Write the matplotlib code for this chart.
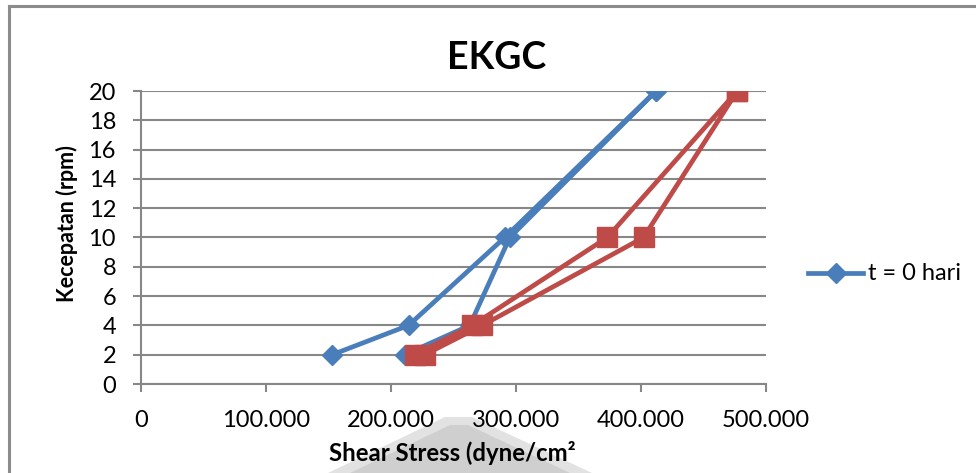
import matplotlib
matplotlib.use("Agg")
import matplotlib.pyplot as plt
from matplotlib.lines import Line2D
from matplotlib.patches import Polygon
from matplotlib.ticker import FuncFormatter

plt.rcParams['font.family'] = ['Lato', 'DejaVu Sans']

# Data (shear stress in dyne/cm^2, speed in rpm)
rpm = [2, 4, 10, 20, 20, 10, 4, 2]
stress_t0 = [153000, 214000, 291000, 412000, 412000, 295000, 263000, 211000]
stress_t2 = [219000, 265000, 373000, 477000, 477000, 402000, 273000, 227000]
series_labels = ["t = 0 hari", "t = 7 hari"]
x_ticks = [0, 100000, 200000, 300000, 400000, 500000]
y_ticks = list(range(0, 21, 2))

BLUE = '#4a7ebb'
RED = '#be4b48'
GRID = '#878787'

W, H = 976, 473
fig = plt.figure(figsize=(W / 100, H / 100), dpi=100)
fig.patch.set_facecolor('white')

# outer frame (top and left edges visible)
fig.add_artist(Line2D([9 / W, 1], [1 - 6 / H, 1 - 6 / H], color='#8c8c8c', lw=2.2, transform=fig.transFigure))
fig.add_artist(Line2D([9 / W, 9 / W], [0, 1 - 6 / H], color='#8c8c8c', lw=2.2, transform=fig.transFigure))

# grey pyramid artifact behind x-label
pyr_outer = [(328, 473), (445, 417), (472, 417), (592, 473)]
pyr_inner = [(350, 473), (450, 425), (468, 425), (570, 473)]
fig.add_artist(Polygon([(x / W, 1 - y / H) for x, y in pyr_outer], closed=True,
                       facecolor='#e2e2e2', edgecolor='none', transform=fig.transFigure, zorder=0))
fig.add_artist(Polygon([(x / W, 1 - y / H) for x, y in pyr_inner], closed=True,
                       facecolor='#cfcfcf', edgecolor='none', transform=fig.transFigure, zorder=0))

ax = fig.add_axes([141 / W, 1 - 384 / H, (766 - 141) / W, (384 - 91) / H])
ax.set_facecolor('none')
ax.set_xlim(0, 500000)
ax.set_ylim(0, 20)
ax.set_xticks(x_ticks)
ax.set_yticks(y_ticks)
ax.xaxis.set_major_formatter(FuncFormatter(lambda v, p: f"{int(v):,}".replace(',', '.')))
ax.yaxis.grid(True, color=GRID, lw=1.5)
ax.set_axisbelow(True)
for s in ['top', 'right']:
    ax.spines[s].set_visible(False)
for s in ['left', 'bottom']:
    ax.spines[s].set_color(GRID)
    ax.spines[s].set_linewidth(1.5)
ax.tick_params(axis='both', direction='out', length=6, width=1.5, color=GRID,
               labelsize=17, labelcolor='#000000')
ax.tick_params(axis='x', pad=13)
ax.tick_params(axis='y', pad=12)

ax.plot(stress_t0, rpm, color=BLUE, lw=3.4, marker='D', markersize=10,
        markerfacecolor=BLUE, markeredgecolor=BLUE, zorder=3, label=series_labels[0])
ax.plot(stress_t2, rpm, color=RED, lw=3.4, marker='s', markersize=14,
        markerfacecolor=RED, markeredgecolor=RED, zorder=4, label=series_labels[1])

# titles/labels
fig.text(497 / W, 1 - 58 / H, "EKGC", ha='center', va='center', fontsize=27, fontweight='bold')
fig.text(67 / W, 1 - 224 / H, "Kecepatan (rpm)", ha='center', va='center', rotation=90,
         fontsize=15.5, fontweight='bold')
fig.text(452 / W, 1 - 453 / H, "Shear Stress (dyne/cm²", ha='center', va='center',
         fontsize=17.2, fontweight='bold', zorder=5)

# legend (only first entry visible)
fig.add_artist(Line2D([808 / W, 863 / W], [1 - 273 / H, 1 - 273 / H], color=BLUE, lw=3.4,
                      transform=fig.transFigure))
fig.add_artist(Line2D([835.5 / W], [1 - 273 / H], color=BLUE, marker='D', markersize=10,
                      transform=fig.transFigure))
fig.text(868 / W, 1 - 273 / H, series_labels[0], ha='left', va='center', fontsize=17)

fig.savefig('out.png', dpi=100, facecolor='white')
